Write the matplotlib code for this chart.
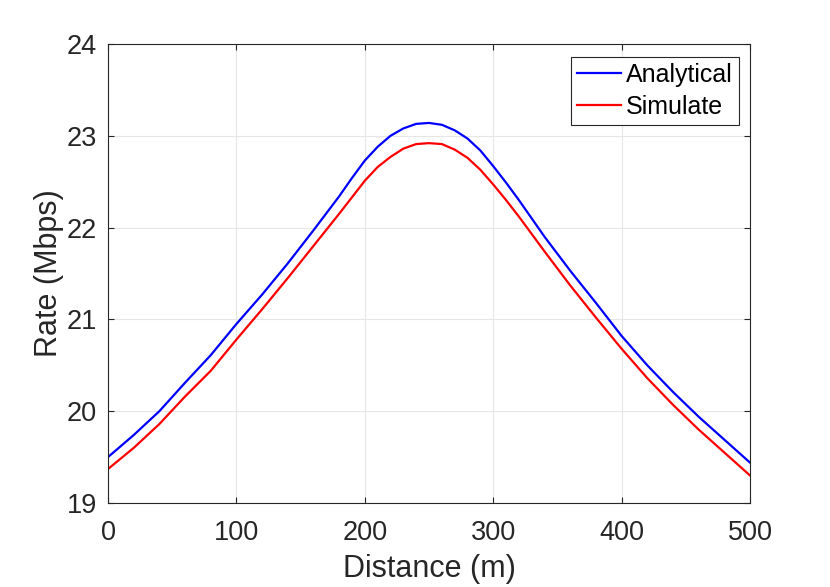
import numpy as np
import matplotlib
matplotlib.use('Agg')
import matplotlib.pyplot as plt

plt.rcParams['font.family'] = ['Liberation Sans', 'DejaVu Sans']

# values
distance = [0, 20, 40, 60, 80, 100, 120, 140, 160, 180, 190, 200, 210, 220, 230, 240,
            250, 260, 270, 280, 290, 300, 310, 320, 340, 360, 380, 400, 420, 440,
            460, 480, 500]
rate_analytical = [19.50, 19.74, 20.00, 20.31, 20.61, 20.95, 21.27, 21.61, 21.97,
                   22.34, 22.54, 22.73, 22.88, 23.00, 23.08, 23.13, 23.14, 23.12,
                   23.06, 22.97, 22.84, 22.67, 22.49, 22.30, 21.90, 21.53, 21.18,
                   20.82, 20.50, 20.21, 19.94, 19.69, 19.44]
rate_simulate = [19.37, 19.60, 19.86, 20.16, 20.44, 20.78, 21.11, 21.45, 21.80,
                 22.15, 22.33, 22.51, 22.66, 22.77, 22.86, 22.91, 22.92, 22.91,
                 22.85, 22.76, 22.63, 22.47, 22.30, 22.12, 21.74, 21.37, 21.02,
                 20.68, 20.36, 20.07, 19.80, 19.55, 19.30]

xticks = [0, 100, 200, 300, 400, 500]
yticks = [19, 20, 21, 22, 23, 24]

axcol = '#262626'

fig = plt.figure(figsize=(8.3, 5.87), dpi=100)
ax = fig.add_axes([108/830, 1-503/587, 642/830, 459/587])

ax.plot(distance, rate_analytical, color='#0000ff', lw=1.6, label='Analytical')
ax.plot(distance, rate_simulate, color='#ff0000', lw=1.6, label='Simulate')

ax.set_xlim(0, 500)
ax.set_ylim(19, 24)
ax.set_xticks(xticks)
ax.set_yticks(yticks)
ax.grid(True, color='#e6e6e6', lw=0.8)
ax.set_axisbelow(True)

for s in ax.spines.values():
	s.set_color(axcol)
	s.set_linewidth(0.8)
ax.tick_params(direction='in', length=4.6, width=0.8, color=axcol,
			   labelcolor=axcol, labelsize=19.5, top=True, right=True)
ax.tick_params(axis='x', pad=12)
ax.tick_params(axis='y', pad=8)

ax.set_xlabel('Distance (m)', fontsize=22, color=axcol, labelpad=6)
ax.set_ylabel('Rate (Mbps)', fontsize=22, color=axcol, labelpad=2)

leg = ax.legend(loc='upper right', bbox_to_anchor=(0.983, 0.972), borderaxespad=0,
				fontsize=18, handlelength=1.75, handletextpad=0.2,
				borderpad=0.25, labelspacing=0.3, fancybox=False, framealpha=1)
leg.get_frame().set_edgecolor(axcol)
leg.get_frame().set_linewidth(0.8)
for t in leg.get_texts():
	t.set_color('black')

fig.savefig('out.png', dpi=100)
